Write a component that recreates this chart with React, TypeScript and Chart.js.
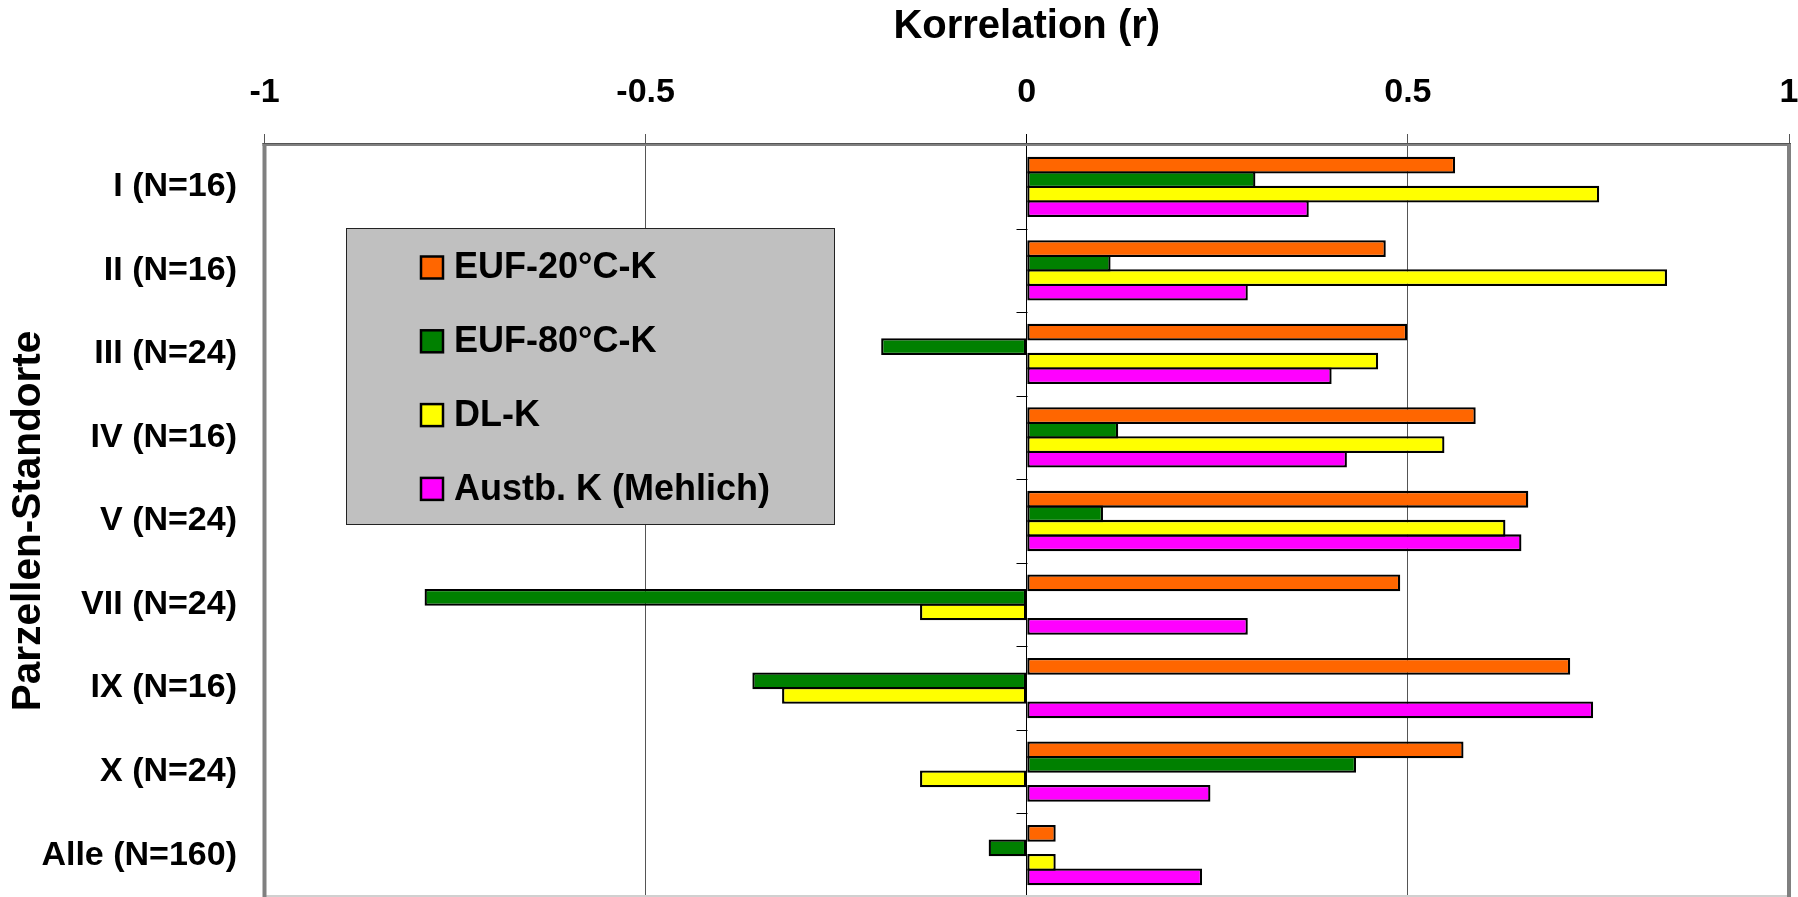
import { useEffect, useRef } from 'react';
import { Chart, registerables } from 'chart.js';

Chart.register(...registerables);

const categories = ['I (N=16)', 'II (N=16)', 'III (N=24)', 'IV (N=16)', 'V (N=24)', 'VII (N=24)', 'IX (N=16)', 'X (N=24)', 'Alle (N=160)'];
const seriesNames = ['EUF-20°C-K', 'EUF-80°C-K', 'DL-K', 'Austb. K (Mehlich)'];
const euf20 = [0.562, 0.471, 0.499, 0.589, 0.658, 0.490, 0.713, 0.573, 0.038];
const euf80 = [0.300, 0.110, -0.191, 0.120, 0.100, -0.790, -0.360, 0.432, -0.050];
const dlk = [0.751, 0.840, 0.461, 0.548, 0.628, -0.140, -0.321, -0.140, 0.038];
const mehlich = [0.370, 0.290, 0.400, 0.420, 0.649, 0.290, 0.743, 0.241, 0.230];
const seriesColors = ['#FF6600', '#008000', '#FFFF00', '#FF00FF'];
const xTicks = [-1, -0.5, 0, 0.5, 1];

const FONT = '"Liberation Sans", Arial, sans-serif';
const BAR_BORDER = 2.3;

const decorPlugin = {
  id: 'decor',
  afterDraw(chart: any) {
    const { ctx, chartArea: a, scales } = chart;
    const x = scales.x;
    const y = scales.y;
    ctx.save();
    // tick marks on the zero line at category boundaries
    const x0 = Math.round(x.getPixelForValue(0)) + 0.5;
    ctx.strokeStyle = '#000';
    ctx.lineWidth = 1;
    for (let i = 0; i <= categories.length; i++) {
      const py = Math.round(y.getPixelForValue(i - 0.5)) + 0.5;
      ctx.beginPath();
      ctx.moveTo(x0 - 11, py);
      ctx.lineTo(x0, py);
      ctx.stroke();
    }
    // plot borders
    ctx.fillStyle = '#d0d0d0';
    ctx.fillRect(a.left, a.bottom - 2, a.right - a.left, 2);
    ctx.fillStyle = '#808080';
    ctx.fillRect(a.left - 2, a.top - 2, 4, a.bottom - a.top + 2);
    ctx.fillRect(a.right - 2, a.top - 2, 4, a.bottom - a.top + 2);
    ctx.fillRect(a.left - 2, a.top - 2, a.right - a.left + 4, 3);
    ctx.fillStyle = '#555';
    ctx.fillRect(a.left - 2, a.top - 2, a.right - a.left + 4, 1);

    // legend
    const lx = 346, ly = 228, lw = 489, lh = 297;
    ctx.fillStyle = '#C0C0C0';
    ctx.fillRect(lx, ly, lw, lh);
    ctx.strokeStyle = '#222';
    ctx.lineWidth = 1;
    ctx.strokeRect(lx + 0.5, ly + 0.5, lw - 1, lh - 1);
    ctx.font = 'bold 36px ' + FONT;
    ctx.textBaseline = 'middle';
    ctx.textAlign = 'left';
    chart.data.datasets.forEach((ds: any, i: number) => {
      const cy = 267.5 + i * 73.8;
      ctx.fillStyle = ds.backgroundColor;
      ctx.fillRect(421, cy - 11, 22, 22);
      ctx.strokeStyle = '#000';
      ctx.lineWidth = 2.5;
      ctx.strokeRect(421, cy - 11, 22, 22);
      ctx.fillStyle = '#000';
      ctx.fillText(ds.label, 454, cy + 1);
    });
    ctx.restore();
  },
};

export default function App() {
  const ref = useRef<HTMLCanvasElement | null>(null);
  useEffect(() => {
    if (!ref.current) return;
    const series = [euf20, euf80, dlk, mehlich];
    const pitch = 14.5;
    const catH = 752 / categories.length;
    const chart = new Chart(ref.current, {
      type: 'bar',
      data: {
        labels: categories,
        datasets: series.map((d, i) => ({
          label: seriesNames[i],
          data: d,
          backgroundColor: seriesColors[i],
          borderColor: '#000',
          borderWidth: BAR_BORDER,
          borderSkipped: false,
          inflateAmount: 0,
          barPercentage: (pitch + BAR_BORDER) / pitch,
          categoryPercentage: (4 * pitch) / catH,
        })),
      },
      options: {
        indexAxis: 'y',
        responsive: false,
        animation: false,
        devicePixelRatio: 1,
        layout: { padding: { left: 0, right: 9, top: 0, bottom: 0 } },
        plugins: { legend: { display: false }, tooltip: { enabled: false } },
        scales: {
          x: {
            type: 'linear',
            position: 'top',
            min: -1,
            max: 1,
            z: 1,
            afterBuildTicks: (scale: any) => {
              scale.ticks = xTicks.map((v) => ({ value: v }));
            },
            afterFit: (scale: any) => {
              scale.height = 145;
              scale.paddingLeft = 0;
              scale.paddingRight = 0;
            },
            ticks: {
              callback: (v: any) => String(v),
              font: { family: FONT, size: 34, weight: 'bold' },
              color: '#000',
              padding: 21,
              maxRotation: 0,
              autoSkip: false,
            },
            grid: {
              color: (c: any) => (c.tick && c.tick.value === 0 ? '#000' : '#555'),
              lineWidth: 1,
              tickLength: 11,
              drawTicks: true,
            },
            border: { display: false },
            title: {
              display: true,
              text: 'Korrelation (r)',
              font: { family: FONT, size: 40, weight: 'bold' },
              color: '#000',
              padding: { top: 3, bottom: 0 },
            },
          },
          y: {
            type: 'category',
            position: 'left',
            afterFit: (scale: any) => {
              scale.width = 264.5;
              scale.paddingTop = 0;
              scale.paddingBottom = 0;
            },
            ticks: {
              font: { family: FONT, size: 34, weight: 'bold' },
              color: '#000',
              padding: 27.5,
              autoSkip: false,
            },
            grid: { display: false, drawTicks: false },
            border: { display: false },
            title: {
              display: true,
              text: 'Parzellen-Standorte',
              font: { family: FONT, size: 40.5, weight: 'bold' },
              color: '#000',
              padding: { top: 5, bottom: 0 },
            },
          },
        },
      } as any,
      plugins: [decorPlugin],
    });
    return () => chart.destroy();
  }, []);
  return (
    <div style={{ position: 'fixed', left: 0, top: 0, width: 1798, height: 897, background: '#fff' }}>
      <canvas ref={ref} width={1798} height={897} style={{ display: 'block', width: 1798, height: 897 }} />
    </div>
  );
}
